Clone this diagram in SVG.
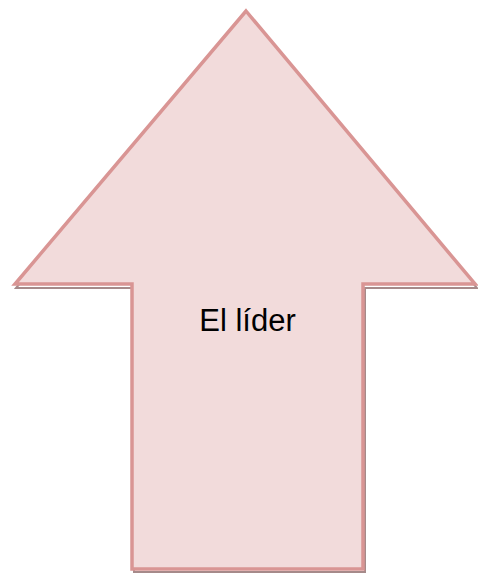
<svg xmlns="http://www.w3.org/2000/svg" width="478" height="573" viewBox="0 0 478 573">
<style>
.shadow{fill:none;stroke:#a68a8a;stroke-width:2}
.arrow{fill:#f2dbdb;stroke:#d99594;stroke-width:3.5;stroke-linejoin:miter}
.lbl{font-family:"Liberation Sans",Arial,sans-serif;font-size:31px;fill:#000}
</style>
<g id="arrow">
<polygon class="shadow" points="248,14 477,288 365,288 365,572 134,572 134,288 16,288"/>
<polygon class="arrow" points="246,11 475,284 363,284 363,569 132,569 132,284 15,284"/>
<text class="lbl" x="247.5" y="331" text-anchor="middle">El líder</text>
</g>
</svg>
